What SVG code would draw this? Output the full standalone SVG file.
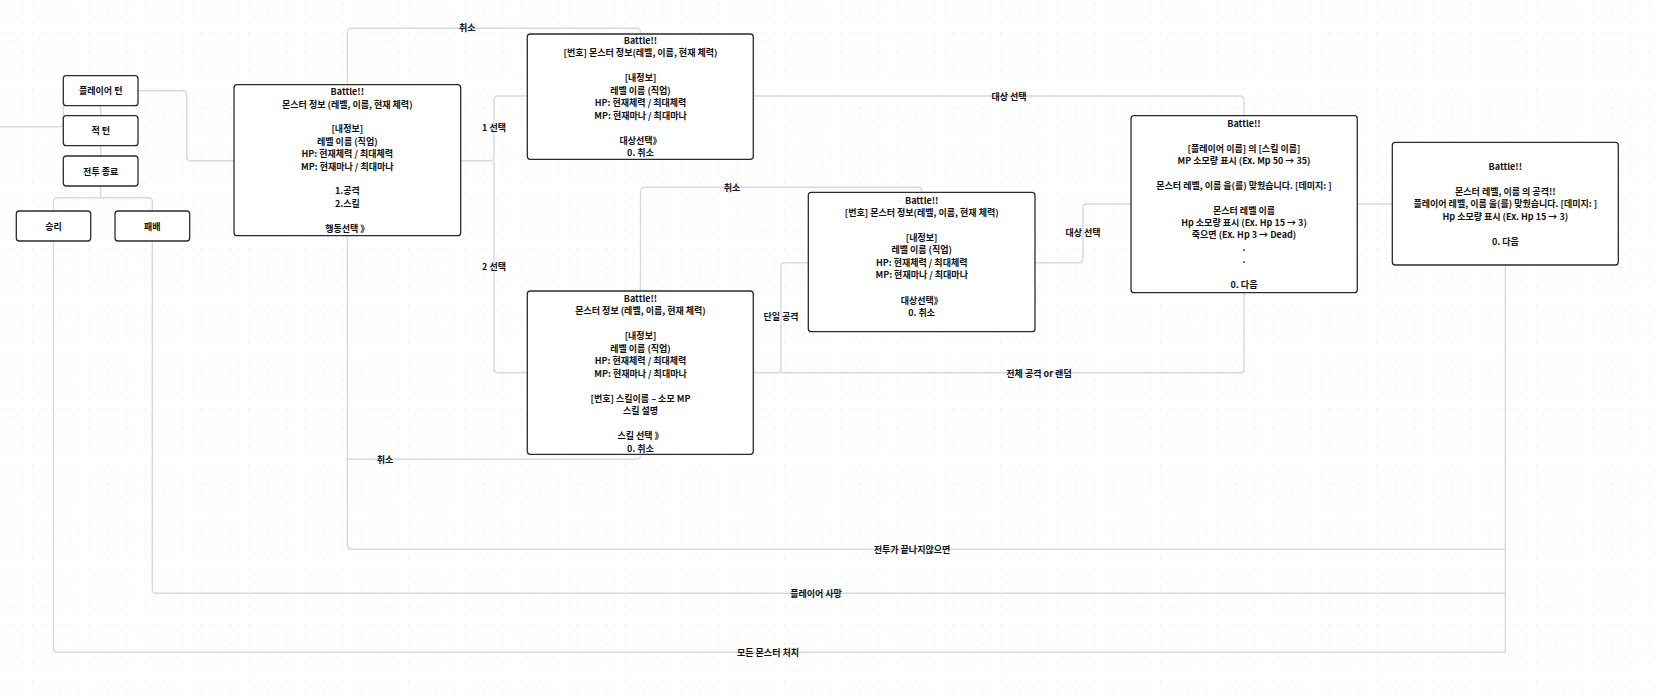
<svg xmlns="http://www.w3.org/2000/svg" width="1657" height="697" viewBox="0 0 1657 697">
<defs>
<pattern id="dots" width="9.4" height="9.4" patternUnits="userSpaceOnUse">
<rect x="4" y="4" width="1" height="1" fill="#d9d9d9"/>
</pattern>
</defs>
<style>
.node rect{fill:#ffffff;stroke:#2b2b2b;stroke-width:1.3}
.node text,.lbl{font-family:"Noto Sans CJK KR","Noto Sans",sans-serif;font-size:9px;font-weight:600;fill:#111111;text-anchor:middle;dominant-baseline:central}
.conn path{fill:none;stroke:#d3dae3;stroke-width:1.4}
</style>
<rect width="1657" height="697" fill="#ffffff"/>
<rect width="1657" height="697" fill="url(#dots)"/>
<g id="connectors" class="conn">
<path d="M0,126.7 H59.3 Q63.3,126.7 63.3,122.7 V105.7"/>
<path d="M100.7,105.7 V115.7"/>
<path d="M100.7,145.7 V156"/>
<path d="M100.7,186 V197.7"/>
<path d="M53.5,211 V201.7 Q53.5,197.7 57.5,197.7 H148.3 Q152.3,197.7 152.3,201.7 V211"/>
<path d="M138,90.7 H182.7 Q186.7,90.7 186.7,94.7 V156.7 Q186.7,160.7 190.7,160.7 H234"/>
<path d="M460.7,160.7 H490 Q494,160.7 494,156.7 V100 Q494,96 498,96 H527.3"/>
<path d="M494,160.7 V368.7 Q494,372.7 498,372.7 H527.3"/>
<path d="M640.5,34 V32.3 Q640.5,28.3 636.5,28.3 H351.3 Q347.3,28.3 347.3,32.3 V84.7"/>
<path d="M753.3,96 H1240 Q1244,96 1244,100 V115.7"/>
<path d="M753.3,372.7 H777 Q781,372.7 781,368.7 V266.7 Q781,262.7 785,262.7 H808.3"/>
<path d="M781,372.7 H1240 Q1244,372.7 1244,368.7 V292.7"/>
<path d="M1035,262.7 H1079 Q1083,262.7 1083,258.7 V208 Q1083,204 1087,204 H1131"/>
<path d="M1357.3,204 H1392.3"/>
<path d="M921.7,192.3 V191.3 Q921.7,187.3 917.7,187.3 H644.5 Q640.5,187.3 640.5,191.3 V291"/>
<path d="M640.5,454.3 V455.3 Q640.5,459.3 636.5,459.3 H347.3"/>
<path d="M347.3,235.7 V545.3 Q347.3,549.3 351.3,549.3 H1505.3"/>
<path d="M1505.3,265 V652.3"/>
<path d="M152.3,241 V589.3 Q152.3,593.3 156.3,593.3 H1505.3"/>
<path d="M53.5,241 V648.3 Q53.5,652.3 57.5,652.3 H1505.3"/>
</g>
<g id="labels">
<text class="lbl" x="467.3" y="27.5">취소</text>
<text class="lbl" x="494" y="127.7">1 선택</text>
<text class="lbl" x="494" y="266">2 선택</text>
<text class="lbl" x="1009" y="96">대상 선택</text>
<text class="lbl" x="732" y="187.3">취소</text>
<text class="lbl" x="781" y="316.7">단일 공격</text>
<text class="lbl" x="1083" y="232.7">대상 선택</text>
<text class="lbl" x="1039" y="373">전체 공격 or 랜덤</text>
<text class="lbl" x="385" y="459.3">취소</text>
<text class="lbl" x="912" y="549.3">전투가 끝나지않으면</text>
<text class="lbl" x="816" y="593.3">플레이어 사망</text>
<text class="lbl" x="768" y="652.3">모든 몬스터 처치</text>
</g>
<g id="player-turn" class="node"><rect x="63.3" y="75.7" width="74.7" height="30" rx="3"/><text x="100.7" y="90.7">플레이어 턴</text></g>
<g id="enemy-turn" class="node"><rect x="63.3" y="115.7" width="74.7" height="30" rx="3"/><text x="100.7" y="130.7">적 턴</text></g>
<g id="battle-end" class="node"><rect x="63.3" y="156" width="74.7" height="30" rx="3"/><text x="100.7" y="171">전투 종료</text></g>
<g id="win" class="node"><rect x="16.3" y="211" width="74.4" height="30" rx="3"/><text x="53.5" y="226">승리</text></g>
<g id="lose" class="node"><rect x="115" y="211" width="74.7" height="30" rx="3"/><text x="152.3" y="226">패배</text></g>
<g id="main-battle" class="node"><rect x="234" y="84.7" width="226.7" height="151" rx="3"/>
<text x="347.3" y="91.7">Battle!!</text>
<text x="347.3" y="104.1">몬스터 정보 (레벨, 이름, 현재 체력)</text>
<text x="347.3" y="128.9">[내정보]</text>
<text x="347.3" y="141.3">레벨 이름 (직업)</text>
<text x="347.3" y="153.7">HP: 현재체력 / 최대체력</text>
<text x="347.3" y="166.1">MP: 현재마나 / 최대마나</text>
<text x="347.3" y="190.9">1.공격</text>
<text x="347.3" y="203.3">2.스킬</text>
<text x="347.3" y="228.1">행동선택 》</text>
</g>
<g id="target-select" class="node"><rect x="527.3" y="34" width="226" height="125.3" rx="3"/>
<text x="640.5" y="40">Battle!!</text>
<text x="640.5" y="52.5">[번호] 몬스터 정보(레벨, 이름, 현재 체력)</text>
<text x="640.5" y="77.5">[내정보]</text>
<text x="640.5" y="90">레벨 이름 (직업)</text>
<text x="640.5" y="102.5">HP: 현재체력 / 최대체력</text>
<text x="640.5" y="115">MP: 현재마나 / 최대마나</text>
<text x="640.5" y="140">대상선택》</text>
<text x="640.5" y="152.5">0. 취소</text>
</g>
<g id="skill-select" class="node"><rect x="527.3" y="291" width="226" height="163.3" rx="3"/>
<text x="640.5" y="298.3">Battle!!</text>
<text x="640.5" y="310.8">몬스터 정보 (레벨, 이름, 현재 체력)</text>
<text x="640.5" y="335.8">[내정보]</text>
<text x="640.5" y="348.3">레벨 이름 (직업)</text>
<text x="640.5" y="360.8">HP: 현재체력 / 최대체력</text>
<text x="640.5" y="373.3">MP: 현재마나 / 최대마나</text>
<text x="640.5" y="398.3">[번호] 스킬이름 – 소모 MP</text>
<text x="640.5" y="410.8">스킬 설명</text>
<text x="640.5" y="435.8">스킬 선택 》</text>
<text x="640.5" y="448.3">0. 취소</text>
</g>
<g id="skill-target-select" class="node"><rect x="808.3" y="192.3" width="226.7" height="139.4" rx="3"/>
<text x="921.7" y="200">Battle!!</text>
<text x="921.7" y="212.5">[번호] 몬스터 정보(레벨, 이름, 현재 체력)</text>
<text x="921.7" y="237">[내정보]</text>
<text x="921.7" y="249.5">레벨 이름 (직업)</text>
<text x="921.7" y="262.2">HP: 현재체력 / 최대체력</text>
<text x="921.7" y="274.8">MP: 현재마나 / 최대마나</text>
<text x="921.7" y="300">대상선택》</text>
<text x="921.7" y="312.5">0. 취소</text>
</g>
<g id="attack-result" class="node"><rect x="1131" y="115.7" width="226.3" height="177" rx="3"/>
<text x="1244" y="123.3">Battle!!</text>
<text x="1244" y="148.1">[플레이어 이름] 의 [스킬 이름]</text>
<text x="1244" y="160.5">MP 소모량 표시 (Ex. Mp 50 → 35)</text>
<text x="1244" y="185.3">몬스터 레벨, 이름 을(를) 맞췄습니다. [데미지: ]</text>
<text x="1244" y="210.1">몬스터 레벨 이름</text>
<text x="1244" y="222.5">Hp 소모량 표시 (Ex. Hp 15 → 3)</text>
<text x="1244" y="234.9">죽으면 (Ex. Hp 3 → Dead)</text>
<text x="1244" y="247.3">.</text>
<text x="1244" y="259.7">.</text>
<text x="1244" y="284.5">0. 다음</text>
</g>
<g id="monster-attack" class="node"><rect x="1392.3" y="142.3" width="226" height="122.7" rx="3"/>
<text x="1505.3" y="166.7">Battle!!</text>
<text x="1505.3" y="191.5">몬스터 레벨, 이름 의 공격!!</text>
<text x="1505.3" y="203.9">플레이어 레벨, 이름 을(를) 맞췄습니다. [데미지: ]</text>
<text x="1505.3" y="216.3">Hp 소모량 표시 (Ex. Hp 15 → 3)</text>
<text x="1505.3" y="241.1">0. 다음</text>
</g>
</svg>
